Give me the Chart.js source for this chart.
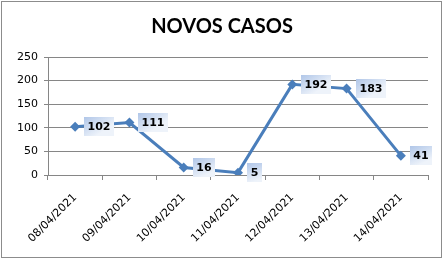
<!DOCTYPE html>
<html>
<head>
<meta charset="utf-8">
<script src="https://cdn.jsdelivr.net/npm/chart.js@4/dist/chart.umd.min.js"></script>
<style>
	html, body { margin: 0; padding: 0; background: #fff; }
	#box { position: relative; width: 445px; height: 261px; }
</style>
</head>
<body>
<div id="box"><canvas id="myChart" width="445" height="261"></canvas></div>
<script>
const chartTitle = "NOVOS CASOS";
const dates = ["08/04/2021", "09/04/2021", "10/04/2021", "11/04/2021", "12/04/2021", "13/04/2021", "14/04/2021"];
const novosCasos = [102, 111, 16, 5, 192, 183, 41];
const yTicks = [0, 50, 100, 150, 200, 250];

const lineColor = "#4a7ebb";
const gridColor = "#868686";

// frame + title drawn by hand so the plot area can sit exactly where the original has it
const frameAndTitle = {
	id: "frameAndTitle",
	beforeDraw(chart) {
		let ctx = chart.ctx;
		ctx.save();
		ctx.fillStyle = "#fff";
		ctx.fillRect(0, 0, chart.width, chart.height);
		ctx.strokeStyle = "#8c8c8c";
		ctx.lineWidth = 1;
		ctx.strokeRect(1.5, 1.5, 440, 256);
		ctx.fillStyle = "#000";
		ctx.font = "bold 20px Lato";
		ctx.textAlign = "center";
		ctx.textBaseline = "middle";
		ctx.fillText(chartTitle, 222, 27);
		ctx.restore();
	}
};

// value boxes to the right of each point
const valueBoxes = {
	id: "valueBoxes",
	afterDatasetsDraw(chart) {
		let ctx = chart.ctx;
		let meta = chart.getDatasetMeta(0);
		ctx.save();
		ctx.font = "bold 11px 'DejaVu Sans'";
		ctx.textBaseline = "middle";
		ctx.textAlign = "center";
		meta.data.forEach((pt, i) => {
			let txt = String(novosCasos[i]);
			let w = Math.round(ctx.measureText(txt).width) + 7;
			let h = 19;
			let x = Math.round(pt.x) + 9;
			let y = Math.round(pt.y - h / 2);
			let g = ctx.createLinearGradient(x, y, x + w * 0.4, y + h);
			g.addColorStop(0, "#b0c6e8");
			g.addColorStop(1, "#eef3fa");
			ctx.fillStyle = g;
			ctx.fillRect(x, y, w, h);
			ctx.fillStyle = "#000";
			ctx.fillText(txt, x + w / 2, y + h / 2 + 1);
		});
		ctx.restore();
	}
};

new Chart(document.getElementById("myChart").getContext("2d"), {
	type: "line",
	data: {
		labels: dates,
		datasets: [{
			label: chartTitle,
			data: novosCasos,
			borderColor: lineColor,
			backgroundColor: lineColor,
			borderWidth: 3,
			pointStyle: "rectRot",
			pointRadius: 5,
			pointBorderWidth: 0,
			pointBackgroundColor: lineColor,
			tension: 0,
			fill: false
		}]
	},
	options: {
		responsive: false,
		animation: false,
		devicePixelRatio: 1,
		layout: { padding: { left: 0, right: 17, top: 57, bottom: 0 } },
		plugins: {
			legend: { display: false },
			title: { display: false },
			tooltip: { enabled: false }
		},
		scales: {
			x: {
				offset: true,
				grid: { offset: true, drawOnChartArea: false, drawTicks: true, tickLength: 5, color: gridColor },
				border: { display: true, color: gridColor },
				ticks: {
					color: "#000",
					font: { family: "DejaVu Sans", size: 11 },
					minRotation: 45,
					maxRotation: 45,
					padding: 11
				},
				afterFit(scale) { scale.height = 86; }
			},
			y: {
				min: 0,
				max: 250,
				afterBuildTicks(scale) { scale.ticks = yTicks.map(v => ({ value: v })); },
				grid: { color: gridColor, tickLength: 4 },
				border: { display: true, color: gridColor },
				ticks: {
					color: "#000",
					font: { family: "DejaVu Sans", size: 11 },
					padding: 6
				},
				afterFit(scale) { scale.width = 48; }
			}
		}
	},
	plugins: [frameAndTitle, valueBoxes]
});
</script>
</body>
</html>
